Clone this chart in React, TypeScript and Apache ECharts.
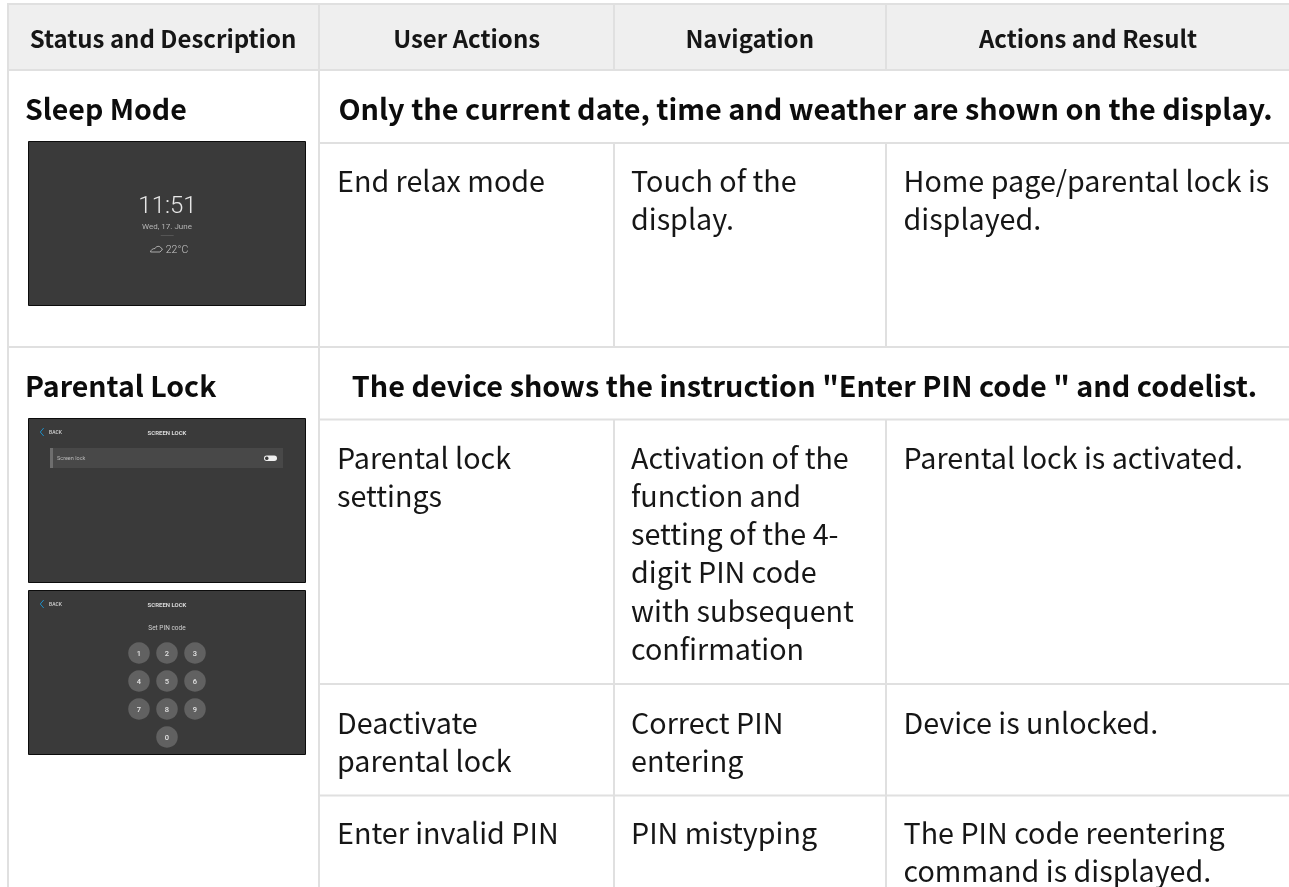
import React, { useEffect, useRef } from "react";
import * as echarts from "echarts";

const headers = ["Status and Description", "User Actions", "Navigation", "Actions and Result"];
const sectionTitles = ["Sleep Mode", "Parental Lock"];
const sectionNotes = [
  "Only the current date, time and weather are shown on the display.",
  'The device shows the instruction "Enter PIN code " and codelist.',
];
const sleepRow = [["End relax mode"], ["Touch of the", "display."], ["Home page/parental lock is", "displayed."]];
const settingsRow = [
  ["Parental lock", "settings"],
  ["Activation of the", "function and", "setting of the 4-", "digit PIN code", "with subsequent", "confirmation"],
  ["Parental lock is activated."],
];
const deactivateRow = [["Deactivate", "parental lock"], ["Correct PIN", "entering"], ["Device is unlocked."]];
const invalidRow = [["Enter invalid PIN"], ["PIN mistyping"], ["The PIN code reentering", "command is displayed."]];
const keypadDigits = [["1", "2", "3"], ["4", "5", "6"], ["7", "8", "9"], ["", "0", ""]];

const FONT = '"Noto Sans CJK SC", "Noto Sans", sans-serif';
const LINE = "#e0e0e0";
const W = 1289;
const H = 887;

echarts.graphic.registerShape(
  "sleepcloud",
  echarts.graphic.extendPath("M0.5 7 C1 4.5 3 3.5 5 3.5 C6 1 10 0.5 11 3 L12.5 4 L11 6 L10 7 Z", {})
);

function txt(text: string, x: number, y: number, size: number, weight: any = 400, fill = "#161616", align = "left", family = FONT) {
  return {
    type: "text",
    silent: true,
    style: { text, x, y, fontSize: size, fontWeight: weight, fontFamily: family, fill, align, verticalAlign: "middle" },
  };
}
function rect(x: number, y: number, width: number, height: number, fill: string, extra: any = {}) {
  return { type: "rect", silent: true, shape: { x, y, width, height, ...extra.shape }, style: { fill, ...extra.style } };
}
function lines(row: string[][], xs: number[], y0: number, pitch: number) {
  const out: any[] = [];
  row.forEach((cell, c) => cell.forEach((t, i) => out.push(txt(t, xs[c], y0 + i * pitch, 28.7))));
  return out;
}
function screen(y: number, h: number) {
  return rect(28.5, y + 0.5, 277, h, "#3a3a3a", { style: { stroke: "#0c0c0c", lineWidth: 1 } });
}
function chevron(y: number) {
  return {
    type: "polyline",
    silent: true,
    shape: { points: [[43.7, y - 4], [40.3, y], [43.7, y + 4]] },
    style: { stroke: "#1e8fc8", fill: "none", lineWidth: 1 },
  };
}

function buildGraphic() {
  const els: any[] = [];
  const mono = "Roboto, sans-serif";
  els.push(rect(0, 0, W, H, "#ffffff"));
  els.push(rect(8, 5, W - 8, 64, "#efefef"));
  const h = (x: number, y: number, w: number) => els.push(rect(x, y, w, 2, LINE));
  const v = (x: number, y: number, hh: number) => els.push(rect(x, y, 2, hh, LINE));
  h(7, 3, W - 7);
  h(7, 69, W - 7);
  h(319, 142, W - 319);
  h(7, 346, W - 7);
  h(319, 418.5, W - 319);
  h(319, 683, W - 319);
  h(319, 794.5, W - 319);
  v(7, 3, H - 3);
  v(318, 3, H - 3);
  [613, 885].forEach((x) => {
    v(x, 5, 64);
    v(x, 143, 203);
    v(x, 420, H - 420);
  });
  const hx = [163, 466.7, 749.7, 1088];
  headers.forEach((t, i) => els.push(txt(t, hx[i], 37.5, 24, 700, "#161616", "center")));
  els.push(txt(sectionTitles[0], 25, 107, 28.5, 700, "#0c0c0c"));
  els.push(txt(sectionTitles[1], 25, 384, 28.5, 700, "#0c0c0c"));
  els.push(txt(sectionNotes[0], 805.5, 107, 28.8, 700, "#0c0c0c", "center"));
  els.push(txt(sectionNotes[1], 804.5, 384, 28.8, 700, "#0c0c0c", "center"));
  const xs = [337, 631, 903.5];
  const pitch = 38.3;
  els.push(...lines(sleepRow, xs, 179, pitch));
  els.push(...lines(settingsRow, xs, 456, pitch));
  els.push(...lines(deactivateRow, xs, 721, pitch));
  els.push(...lines(invalidRow, xs, 831, pitch));
  els.push(screen(141, 164));
  els.push(txt("11:51", 167.5, 205, 24, 300, "#e6e6e6", "center", mono));
  els.push(txt("Wed, 17. June", 167, 226, 8, 400, "#b5b5b5", "center", mono));
  els.push(rect(160.7, 235, 13, 1, "#555555"));
  els.push({
    type: "sleepcloud", silent: true, x: 150, y: 245,
    style: { fill: "none", stroke: "#c8c8c8", lineWidth: 0.8 },
  });
  els.push(txt("22°C", 177, 249, 10.5, 300, "#c8c8c8", "center", mono));
  els.push(screen(418, 164));
  els.push(chevron(432));
  els.push(txt("BACK", 49, 432, 5, 500, "#d4d4d4", "left", mono));
  els.push(txt("SCREEN LOCK", 167, 432, 6, 700, "#d8d8d8", "center", mono));
  els.push(rect(50, 448, 233, 20, "#484848"));
  els.push(rect(50, 448, 3, 20, "#6e6e6e"));
  els.push(txt("Screen lock", 57, 458, 5.5, 400, "#b8b8b8", "left", mono));
  els.push(rect(264, 455.5, 13, 5.5, "#f0f0f0", { shape: { r: 2.75 } }));
  els.push({ type: "circle", silent: true, shape: { cx: 266.8, cy: 458.2, r: 1.8 }, style: { fill: "#3a3a3a" } });
  els.push(screen(590, 164));
  els.push(chevron(604));
  els.push(txt("BACK", 49, 604, 5, 500, "#d4d4d4", "left", mono));
  els.push(txt("SCREEN LOCK", 167, 604, 6, 700, "#d8d8d8", "center", mono));
  els.push(txt("Set PIN code", 167, 627.5, 6.5, 400, "#d0d0d0", "center", mono));
  const kx = [139, 167, 195];
  const ky = [653, 681, 709, 737];
  keypadDigits.forEach((row, r) =>
    row.forEach((d, c) => {
      if (!d) return;
      els.push({ type: "circle", silent: true, shape: { cx: kx[c], cy: ky[r], r: 10.8 }, style: { fill: "#616161" } });
      els.push(txt(d, kx[c], ky[r], 7.5, 500, "#e4e4e4", "center", mono));
    })
  );
  return els;
}

export default function App() {
  const ref = useRef<HTMLDivElement>(null);
  useEffect(() => {
    const chart = echarts.init(ref.current!, undefined, { renderer: "svg" });
    chart.setOption({ animation: false, graphic: { elements: buildGraphic() } });
    return () => chart.dispose();
  }, []);
  return <div ref={ref} style={{ position: "fixed", left: 0, top: 0, width: W, height: H }} />;
}
